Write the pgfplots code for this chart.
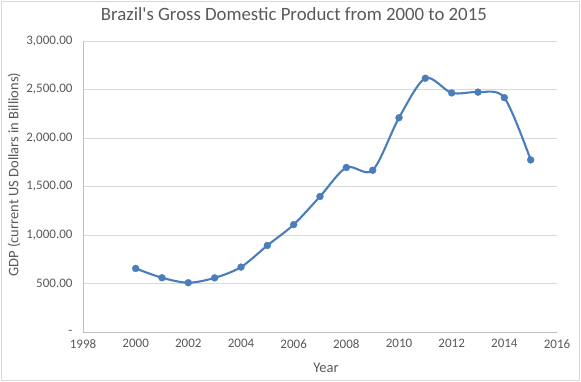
\documentclass[border=0pt]{standalone}
\usepackage{pgfplots}
\pgfplotsset{compat=1.18}
\usepackage{fontspec}
\setmainfont{Carlito}
\definecolor{txt}{HTML}{595959}
\definecolor{grid}{HTML}{D9D9D9}
\definecolor{axl}{HTML}{BFBFBF}
\definecolor{ser}{HTML}{4A7EBB}
\begin{document}
\begin{tikzpicture}
\useasboundingbox (0pt,0pt) rectangle (581pt,382pt);
\draw[draw=grid, line width=0.8pt] (1.5pt,1.5pt) rectangle (579.5pt,380.5pt);
\begin{axis}[
  at={(83pt,50pt)}, anchor=south west,
  scale only axis, width=474pt, height=291pt,
  xmin=1998, xmax=2016, ymin=0, ymax=3000,
  xtick={1998,2000,...,2016},
  ytick={0,500,...,3000},
  yticklabels={-,500.00,{1,000.00},{1,500.00},{2,000.00},{2,500.00},{3,000.00}},
  xticklabel style={/pgf/number format/1000 sep=},
  /pgf/number format/assume math mode=true,
  tick label style={font=\fontsize{13}{15}\selectfont, text=txt},
  xticklabel style={yshift=-4pt},
  yticklabel style={xshift=-7pt},
  major tick length=0pt,
  ymajorgrids, grid style={draw=grid, line width=0.8pt},
  axis x line*=bottom, axis y line*=left,
  axis line style={draw=axl, line width=0.8pt, -},
  xlabel={Year},
  xlabel style={at={(rel axis cs:0.5127,0)}, anchor=center, yshift=-36pt, font=\fontsize{14.5}{16}\selectfont, text=txt},
  ylabel={GDP (current US Dollars in Billions)},
  ylabel style={at={(rel axis cs:-0.1456,0.541)}, anchor=center, font=\fontsize{14.5}{16}\selectfont, text=txt},
  title={Brazil\textquotesingle s Gross Domestic Product from 2000 to 2015},
  title style={at={(rel axis cs:0.4449,1)}, anchor=center, yshift=21pt, font=\fontsize{18.8}{21}\selectfont, text=txt},
  clip=false,
]
\addplot[ser, line width=2.1pt, smooth, tension=0.5, mark=*, mark size=3.5pt, mark options={solid, fill=ser, draw=ser, line width=0.3pt}] coordinates {
(2000,655) (2001,559) (2002,508) (2003,558) (2004,669) (2005,892)
(2006,1107) (2007,1397) (2008,1696) (2009,1667) (2010,2209) (2011,2616)
(2012,2465) (2013,2473) (2014,2416) (2015,1774)
};
\end{axis}
\end{tikzpicture}
\end{document}
